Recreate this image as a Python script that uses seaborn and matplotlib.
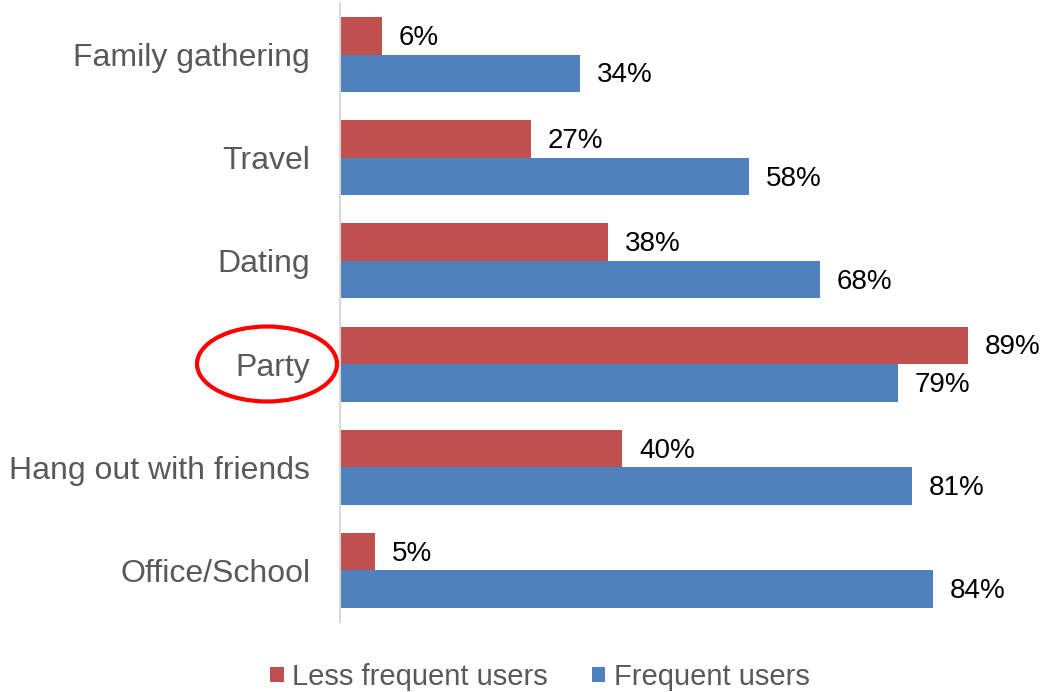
import matplotlib
matplotlib.use("Agg")
import matplotlib.pyplot as plt
from matplotlib.patches import Ellipse
import seaborn as sns
import pandas as pd

categories = ["Family gathering", "Travel", "Dating", "Party",
              "Hang out with friends", "Office/School"]
less_frequent = [6, 27, 38, 89, 40, 5]
frequent = [34, 58, 68, 79, 81, 84]
series_names = ["Less frequent users", "Frequent users"]
colors = ["#C0504D", "#4F81BD"]

df = pd.DataFrame({
    "activity": categories * 2,
    "share": less_frequent + frequent,
    "group": [series_names[0]] * len(categories) + [series_names[1]] * len(categories),
})

sns.set_style("white")
plt.rcParams["font.family"] = ["Liberation Sans", "DejaVu Sans"]

W, H = 1056, 692
fig = plt.figure(figsize=(W / 100, H / 100), dpi=100)
ax = fig.add_axes([340 / W, 1 - 622 / H, (1046 - 340) / W, (622 - 3) / H])

sns.barplot(data=df, y="activity", x="share", hue="group", order=categories,
            hue_order=series_names, palette=colors, saturation=1, orient="h",
            width=0.727, linewidth=0, ax=ax, legend=True)

ax.set_xlim(0, 100)
ax.set_ylim(len(categories) - 0.5, -0.5)
ax.set_xlabel("")
ax.set_ylabel("")
ax.set_xticks([])
for s in ["top", "right", "bottom"]:
    ax.spines[s].set_visible(False)
ax.spines["left"].set_color("#D9D9D9")
ax.spines["left"].set_linewidth(1.5)
ax.tick_params(axis="y", length=0, pad=21.5, labelsize=23, labelcolor="#595959")

# value labels at the end of each bar, sitting slightly below the bar centre
for container in ax.containers:
    labels = [f"{v:.0f}%" for v in container.datavalues]
    texts = ax.bar_label(container, labels=labels, padding=12, fontsize=20,
                         color="black")
    for t in texts:
        t.xyann = (12, -1.5)

# legend below the plot
handles, labels = ax.get_legend_handles_labels()
ax.legend_.remove()
fig.legend(handles, labels, loc="center", bbox_to_anchor=(540 / W, 1 - 677 / H),
           ncol=2, frameon=False, fontsize=21, labelcolor="#595959",
           handlelength=0.45, handleheight=0.45, handletextpad=0.3,
           columnspacing=1.5)

# highlight around the "Party" label
ell = Ellipse((267 / W, 1 - 364 / H), 140 / W, 75 / H, transform=fig.transFigure,
              fill=False, edgecolor="#FF0000", linewidth=3)
fig.patches.append(ell)

fig.savefig("out.png", dpi=100)
